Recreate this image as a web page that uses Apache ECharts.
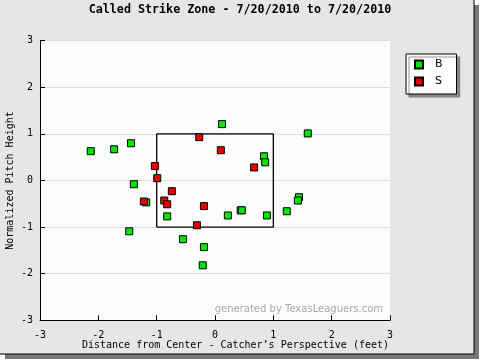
<!DOCTYPE html>
<html>
<head>
<meta charset="utf-8">
<script src="https://cdn.jsdelivr.net/npm/echarts@6/dist/echarts.min.js"></script>
<style>
html,body{margin:0;padding:0;background:#ffffff;}
#chart{width:480px;height:360px;}
</style>
</head>
<body>
<div id="chart"></div>
<script>
var titleText = "Called Strike Zone - 7/20/2010 to 7/20/2010";
var xAxisName = "Distance from Center - Catcher\u2019s Perspective (feet)";
var yAxisName = "Normalized Pitch Height";
var watermark = "generated by TexasLeaguers.com";
var seriesNames = ["B", "S"];

var ballsX = [-2.13, -1.73, -1.44, -1.39, -1.18, -1.47, -0.82, -0.55, -0.19, -0.21, 0.12, 1.59, 0.84, 0.86, 1.44, 1.42, 1.23, 0.22, 0.44, 0.46, 0.89];
var ballsY = [0.63, 0.67, 0.80, -0.08, -0.47, -1.09, -0.77, -1.26, -1.43, -1.82, 1.21, 1.01, 0.52, 0.39, -0.36, -0.43, -0.66, -0.75, -0.64, -0.64, -0.75];

var strikesX = [-0.27, -1.03, -0.99, -0.74, -1.22, -0.87, -0.82, -0.19, -0.31, 0.10, 0.67];
var strikesY = [0.93, 0.31, 0.05, -0.23, -0.45, -0.43, -0.51, -0.55, -0.96, 0.65, 0.28];

var zoneX = [-1, 1, 1, -1, -1];
var zoneY = [-1, -1, 1, 1, -1];

var tickLabels = ["-3", "-2", "-1", "0", "1", "2", "3"];

function pairs(xs, ys) { return xs.map(function (x, i) { return [x, ys[i]]; }); }

var mono = "DejaVu Sans Mono";
var chart = echarts.init(document.getElementById('chart'), null, {renderer: 'canvas'});
chart.setOption({
  animation: false,
  backgroundColor: 'transparent',
  graphic: [
    {type: 'rect', z: -10, shape: {x: 5, y: 5, width: 474, height: 354}, style: {fill: '#777777'}},
    {type: 'rect', z: -9, shape: {x: -1, y: -1, width: 475, height: 355}, style: {fill: '#e6e6e6', stroke: '#000000', lineWidth: 1}},
    {type: 'text', z: 10, left: 'center', top: 4, style: {text: titleText, font: 'bold 11.7px "DejaVu Sans Mono"', fill: '#000000'}},
    {type: 'text', z: 10, x: 389, y: 345, style: {text: xAxisName, font: '10px "DejaVu Sans Mono"', fill: '#000000', align: 'right', verticalAlign: 'middle'}},
    {type: 'text', z: 5, x: 383, y: 309, style: {text: watermark, font: '10px "DejaVu Sans"', fill: '#a8a8a8', align: 'right', verticalAlign: 'middle'}}
  ],
  grid: {left: 40, right: 90, top: 40.7, bottom: 39.7, show: true, backgroundColor: '#fcfefc', borderWidth: 0,
    containLabel: false, outerBoundsMode: 'none'},
  legend: {
    left: 406, top: 54, orient: 'vertical',
    data: seriesNames,
    itemWidth: 8, itemHeight: 8, itemGap: 6,
    padding: [5, 14, 7, 8],
    backgroundColor: '#ffffff', borderColor: '#000000', borderWidth: 1,
    shadowColor: '#888888', shadowOffsetX: 3, shadowOffsetY: 3, shadowBlur: 1,
    textStyle: {fontFamily: 'DejaVu Sans', fontSize: 11, color: '#000', padding: [0, 0, 0, 7], lineHeight: 8},
    icon: 'rect'
  },
  xAxis: {
    type: 'value', min: -3, max: 3, interval: 1,
    axisLine: {show: true, onZero: false, lineStyle: {color: '#000', width: 1}},
    axisTick: {show: true, inside: true, length: 5, lineStyle: {color: '#000'}},
    splitLine: {show: false},
    axisLabel: {fontFamily: mono, fontSize: 10, color: '#000', margin: 10,
      formatter: function (v) { return tickLabels[Math.round(v) + 3]; }}
  },
  yAxis: {
    type: 'value', min: -3, max: 3, interval: 1,
    name: yAxisName, nameLocation: 'middle', nameGap: 25, nameMoveOverlap: false,
    nameTextStyle: {fontFamily: mono, fontSize: 10, color: '#000'},
    axisLine: {show: true, onZero: false, lineStyle: {color: '#000', width: 1}},
    axisTick: {show: true, inside: true, length: 5, lineStyle: {color: '#000'}},
    splitLine: {show: true, lineStyle: {color: '#dcdcdc', width: 1}},
    axisLabel: {fontFamily: mono, fontSize: 10, color: '#000', margin: 7,
      formatter: function (v) { return tickLabels[Math.round(v) + 3]; }}
  },
  series: [
    {type: 'line', name: 'zone', data: pairs(zoneX, zoneY), showSymbol: false, symbol: 'none',
      lineStyle: {color: '#000', width: 1.3}, z: 2, silent: true},
    {type: 'scatter', name: 'B', data: pairs(ballsX, ballsY), symbol: 'rect', symbolSize: 7,
      itemStyle: {color: '#00e400', borderColor: '#000', borderWidth: 1, opacity: 1}, z: 3},
    {type: 'scatter', name: 'S', data: pairs(strikesX, strikesY), symbol: 'rect', symbolSize: 7,
      itemStyle: {color: '#e80000', borderColor: '#000', borderWidth: 1, opacity: 1}, z: 4}
  ]
});
</script>
</body>
</html>
